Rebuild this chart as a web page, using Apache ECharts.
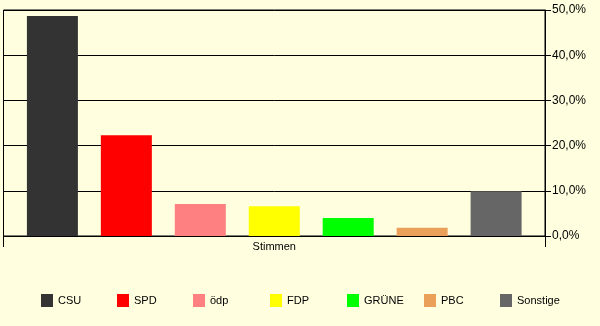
<!DOCTYPE html>
<html><head><meta charset="utf-8">
<script src="https://cdn.jsdelivr.net/npm/echarts@6/dist/echarts.min.js"></script>
<style>html,body{margin:0;padding:0;background:#FFFFE0;}#c{width:600px;height:326px;}</style>
</head><body><div id="c"></div>
<script>
const categories = ['Stimmen'];
const parties = ['CSU', 'SPD', 'ödp', 'FDP', 'GRÜNE', 'PBC', 'Sonstige'];
const values = [48.7, 22.3, 7.1, 6.6, 4.0, 1.8, 9.9];
const colors = ['#333333', '#FF0000', '#FF8080', '#FFFF00', '#00FF00', '#EBA05A', '#666666'];
const yTicks = [0, 10, 20, 30, 40, 50];

const font = 'Liberation Sans, Arial, sans-serif';
const legendLefts = [41, 117, 193, 270, 347, 424, 500];

const chart = echarts.init(document.getElementById('c'), null, {renderer: 'canvas'});
chart.setOption({
  backgroundColor: '#FFFFE0',
  animation: false,
  grid: {left: 3.5, right: 55, top: 10, bottom: 90, show: true, borderColor: '#000', borderWidth: 1, backgroundColor: 'transparent'},
  legend: parties.map((p, i) => ({
    data: [p], left: legendLefts[i], top: 294, padding: 0, itemWidth: 12, itemHeight: 13, itemGap: 0,
    icon: 'rect', selectedMode: false,
    textStyle: {fontFamily: font, fontSize: 11, color: '#000', padding: [0, 0, 0, 0]}
  })),
  xAxis: {
    type: 'category', data: categories, boundaryGap: true,
    axisLine: {show: true, lineStyle: {color: '#000'}},
    axisTick: {show: true, length: 11, alignWithLabel: false, lineStyle: {color: '#000'}},
    axisLabel: {fontFamily: font, fontSize: 11, color: '#000', margin: 5}
  },
  yAxis: {
    type: 'value', position: 'right', min: yTicks[0], max: yTicks[yTicks.length - 1], interval: 10,
    axisLine: {show: true, lineStyle: {color: '#000'}},
    axisTick: {show: true, length: 6, lineStyle: {color: '#000'}},
    splitLine: {show: true, lineStyle: {color: '#000', width: 1}},
    axisLabel: {fontFamily: font, fontSize: 12, color: '#000', margin: 7,
      formatter: v => v.toFixed(1).replace('.', ',') + '%'}
  },
  series: parties.map((p, i) => ({
    name: p, type: 'bar', data: [values[i]], barWidth: 51, barGap: '45%',
    itemStyle: {color: colors[i]}
  }))
});
</script></body></html>
